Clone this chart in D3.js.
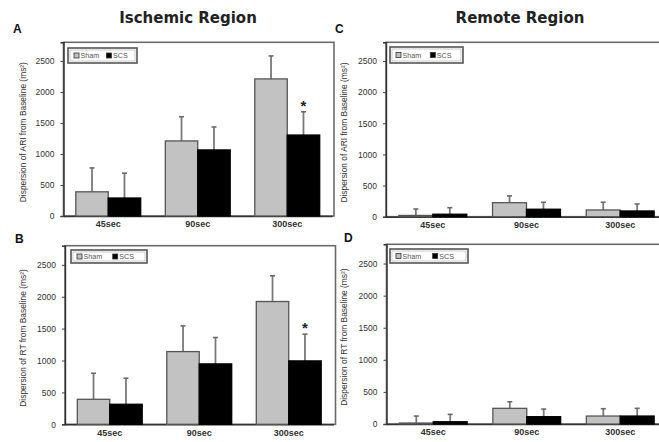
<!DOCTYPE html>
<html><head><meta charset="utf-8">
<script src="https://cdn.jsdelivr.net/npm/d3@7"></script>
<style>body{margin:0;background:#fff}svg{display:block}</style>
</head><body>
<svg id="c" width="659" height="442"></svg>
<script>
const categories = ["45sec", "90sec", "300sec"];
const groups = ["Sham", "SCS"];
const yTicks = [0, 500, 1000, 1500, 2000, 2500];
const yMax = 2800;

// Panel A: ARI, ischemic region
const aSham = [390, 1210, 2210];
const aShamErr = [385, 390, 370];
const aSCS = [290, 1065, 1305];
const aSCSErr = [400, 370, 375];
// Panel B: RT, ischemic region
const bSham = [392, 1140, 1925];
const bShamErr = [408, 403, 403];
const bSCS = [314, 947, 994];
const bSCSErr = [408, 413, 419];
// Panel C: ARI, remote region
const cSham = [20, 225, 108];
const cShamErr = [104, 109, 124];
const cSCS = [40, 120, 92];
const cSCSErr = [105, 112, 113];
// Panel D: RT, remote region
const dSham = [15, 244, 124];
const dShamErr = [109, 102, 114];
const dSCS = [35, 114, 124];
const dSCSErr = [115, 119, 120];

const starsA = [false, false, true];
const starsB = [false, false, true];

const panels = [
  {letter:"A", ytitle:"Dispersion of ARI  from Baseline (ms\u00B2)", sham:aSham, shamErr:aShamErr, scs:aSCS, scsErr:aSCSErr, stars:starsA,
   x0:63.5, x1:332, top:42.3, base:216, lx:13, ly:33, tx:26, leg:[68,48,69,15]},
  {letter:"B", ytitle:"Dispersion of RT from Baseline (ms\u00B2)", sham:bSham, shamErr:bShamErr, scs:bSCS, scsErr:bSCSErr, stars:starsB,
   x0:65, x1:333.5, top:245.7, base:424.3, lx:15, ly:243, tx:26, leg:[71,250,76,13]},
  {letter:"C", ytitle:"Dispersion of ARI from Baseline (ms\u00B2)", sham:cSham, shamErr:cShamErr, scs:cSCS, scsErr:cSCSErr, stars:[false,false,false],
   x0:386, x1:667, top:42.3, base:216.7, lx:335, ly:33, tx:347, leg:[390,47,73,16]},
  {letter:"D", ytitle:"Dispersion of RT from Baseline (ms\u00B2)", sham:dSham, shamErr:dShamErr, scs:dSCS, scsErr:dSCSErr, stars:[false,false,false],
   x0:386.5, x1:667, top:244.3, base:424, lx:344, ly:242, tx:347, leg:[390,249,78,14]}
];

const svg = d3.select("#c");
const font = "Liberation Sans, Arial, sans-serif";

svg.append("text").attr("x", 188).attr("y", 23).attr("text-anchor","middle")
  .attr("font-family","DejaVu Sans, Verdana, sans-serif").attr("font-weight","bold").attr("font-size",15)
  .attr("fill","#222").text("Ischemic Region");
svg.append("text").attr("x", 520).attr("y", 23).attr("text-anchor","middle")
  .attr("font-family","DejaVu Sans, Verdana, sans-serif").attr("font-weight","bold").attr("font-size",15)
  .attr("fill","#222").text("Remote Region");

panels.forEach(p => {
  const g = svg.append("g");
  const x = d3.scaleBand().domain(categories).range([p.x0, p.x1]).paddingInner(0.275).paddingOuter(0.1375);
  const xs = d3.scaleBand().domain(groups).range([0, x.bandwidth()]);
  const y = d3.scaleLinear().domain([0, yMax]).range([p.base, p.top]);

  // frame
  g.append("rect").attr("x", p.x0).attr("y", p.top).attr("width", p.x1 - p.x0 + 2).attr("height", p.base - p.top)
    .attr("fill","none").attr("stroke","#6a6a6a").attr("stroke-width",1.6);

  // panel letter
  g.append("text").attr("x", p.lx).attr("y", p.ly).attr("font-family", font).attr("font-weight","bold")
    .attr("font-size", 12).attr("fill","#111").text(p.letter);

  // y axis
  const ya = g.append("g").attr("transform", `translate(${p.x0},0)`)
    .call(d3.axisLeft(y).tickValues(yTicks).tickFormat(d3.format("d")).tickSize(3).tickPadding(6));
  ya.select(".domain").attr("stroke","#333").attr("stroke-width",1.4);
  ya.selectAll(".tick line").attr("stroke","#444");
  ya.selectAll(".tick text").attr("font-family", font).attr("font-size", 8.5).attr("fill","#333");

  // x axis
  const xa = g.append("g").attr("transform", `translate(0,${p.base})`)
    .call(d3.axisBottom(x).tickSize(0).tickPadding(5));
  xa.select(".domain").attr("stroke","#333").attr("stroke-width",1.4);
  xa.selectAll(".tick text").attr("font-family", font).attr("font-weight","bold").attr("font-size", 9).attr("fill","#333");

  // y title
  g.append("text").attr("transform", `translate(${p.tx},${(p.top + p.base) / 2 + 3}) rotate(-90)`)
    .attr("text-anchor","middle").attr("font-family", font).attr("font-size", 8.4).attr("fill","#333").text(p.ytitle);

  const rows = categories.map((c, i) => [
    {cat:c, grp:"Sham", v:p.sham[i], e:p.shamErr[i]},
    {cat:c, grp:"SCS", v:p.scs[i], e:p.scsErr[i]}
  ]).flat();

  // error bars (drawn behind bars)
  rows.forEach(r => {
    const cx = x(r.cat) + xs(r.grp) + xs.bandwidth() / 2;
    g.append("line").attr("x1", cx).attr("x2", cx).attr("y1", y(r.v)).attr("y2", y(r.v + r.e))
      .attr("stroke","#7a7a7a").attr("stroke-width",1.8);
    g.append("line").attr("x1", cx - 2.5).attr("x2", cx + 2.5).attr("y1", y(r.v + r.e)).attr("y2", y(r.v + r.e))
      .attr("stroke","#6a6a6a").attr("stroke-width",1.6);
  });

  // bars
  rows.forEach(r => {
    g.append("rect").attr("x", x(r.cat) + xs(r.grp)).attr("y", y(r.v))
      .attr("width", xs.bandwidth()).attr("height", p.base - y(r.v))
      .attr("fill", r.grp === "Sham" ? "#c2c2c2" : "#000")
      .attr("stroke", r.grp === "Sham" ? "#555" : "#000").attr("stroke-width", 1.3);
  });

  // significance stars
  categories.forEach((c, i) => {
    if (!p.stars[i]) return;
    const cx = x(c) + xs("SCS") + xs.bandwidth() / 2;
    g.append("text").attr("x", cx).attr("y", y(p.scs[i] + p.scsErr[i]) - 1).attr("text-anchor","middle")
      .attr("font-family", font).attr("font-weight","bold").attr("font-size", 15).attr("fill","#222").text("*");
  });

  // legend
  const [lx, ly, lw, lh] = p.leg;
  const lg = g.append("g");
  lg.append("rect").attr("x", lx).attr("y", ly).attr("width", lw).attr("height", lh)
    .attr("fill","#fff").attr("stroke","#555").attr("stroke-width",1.6);
  lg.append("rect").attr("x", lx + 2).attr("y", ly + 2).attr("width", lw - 4).attr("height", lh - 4)
    .attr("fill","none").attr("stroke","#aaa").attr("stroke-width",0.6);
  const items = groups.map((gname, i) => ({name:gname, fill: i === 0 ? "#c2c2c2" : "#000"}));
  const cy = ly + lh / 2;
  items.forEach((it, i) => {
    const ix = lx + 6 + i * (lw * 0.47);
    lg.append("rect").attr("x", ix).attr("y", cy - 2.5).attr("width", 5).attr("height", 5)
      .attr("fill", it.fill).attr("stroke","#333").attr("stroke-width",0.8);
    lg.append("text").attr("x", ix + 6.5).attr("y", cy + 2.5).attr("font-family", font).attr("font-size", 7.2)
      .attr("fill","#555").text(it.name);
  });
});
</script>
</body></html>
